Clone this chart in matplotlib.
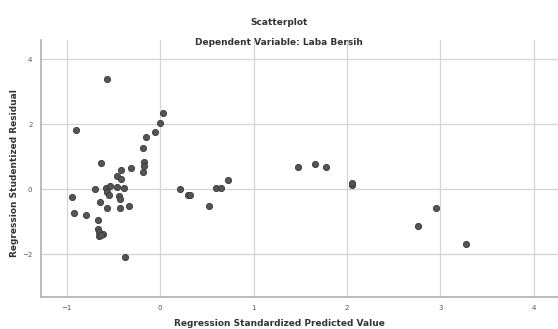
import matplotlib
matplotlib.use('Agg')
import matplotlib.pyplot as plt

# --- Datos ---
pred = [-0.575, 0.03, 0.00, -0.06, -0.15, -0.90, -0.19, -0.17, -0.17, -0.18,
        -0.63, -0.42, -0.31, -0.46, -0.415, -0.70, -0.58, -0.54, -0.465, -0.39,
        -0.565, -0.55, -0.44, -0.43, -0.95, -0.64, -0.57, -0.43, -0.33, -0.92,
        -0.80, -0.665, -0.67, -0.655, -0.655, -0.61, -0.63, -0.375, 0.21, 0.30,
        0.32, 0.52, 0.60, 0.65, 0.73, 1.48, 1.66, 1.77, 2.05, 2.05,
        2.95, 2.76, 3.28]
resid = [3.38, 2.34, 2.04, 1.75, 1.59, 1.82, 1.27, 0.82, 0.70, 0.52,
         0.79, 0.60, 0.64, 0.39, 0.31, 0.00, 0.04, 0.10, 0.05, 0.04,
         -0.08, -0.19, -0.22, -0.29, -0.24, -0.39, -0.57, -0.58, -0.52, -0.75,
         -0.80, -0.96, -1.22, -1.33, -1.43, -1.39, -1.41, -2.08, 0.00, -0.17,
         -0.18, -0.52, 0.02, 0.02, 0.28, 0.69, 0.76, 0.69, 0.14, 0.20,
         -0.59, -1.12, -1.68]

x_ticks = [-1, 0, 1, 2, 3, 4]
y_ticks = [-2, 0, 2, 4]

titulo = "Scatterplot"
subtitulo = "Dependent Variable: Laba Bersih"
etiqueta_x = "Regression Standardized Predicted Value"
etiqueta_y = "Regression Studentized Residual"

# --- Figura ---
fig = plt.figure(figsize=(5.58, 3.29), dpi=100)
ax = fig.add_axes([0.073, 0.097, 0.927, 0.781])

ax.scatter(pred, resid, s=20, color='#555555', edgecolor='#383838',
           linewidth=0.6, zorder=3)

ax.set_xlim(-1.28, 4.26)
ax.set_ylim(-3.32, 4.58)
ax.set_xticks(x_ticks)
ax.set_yticks(y_ticks)
ax.tick_params(labelsize=5, colors='#555555', length=0, pad=6)
ax.grid(True, color='#d4d4d4', linewidth=0.9)
ax.set_axisbelow(True)

for lado in ['top', 'right']:
    ax.spines[lado].set_visible(False)
for lado in ['left', 'bottom']:
    ax.spines[lado].set_color('#b0b0b0')
    ax.spines[lado].set_linewidth(1.2)

# etiquetas de ejes como texto de figura para que no se corten
fig.text(0.5, 0.018, etiqueta_x, ha='center', va='center', fontsize=6.5,
         fontweight='bold', color='#333333')
fig.text(0.026, 0.474, etiqueta_y, ha='center', va='center', fontsize=6.5,
         fontweight='bold', color='#333333', rotation=90)

fig.text(0.5, 0.933, titulo, ha='center', va='center', fontsize=6.5,
         fontweight='bold', color='#333333')
fig.text(0.5, 0.87, subtitulo, ha='center', va='center', fontsize=6.5,
         fontweight='bold', color='#333333')

fig.savefig('out.png', dpi=100, facecolor='white')
